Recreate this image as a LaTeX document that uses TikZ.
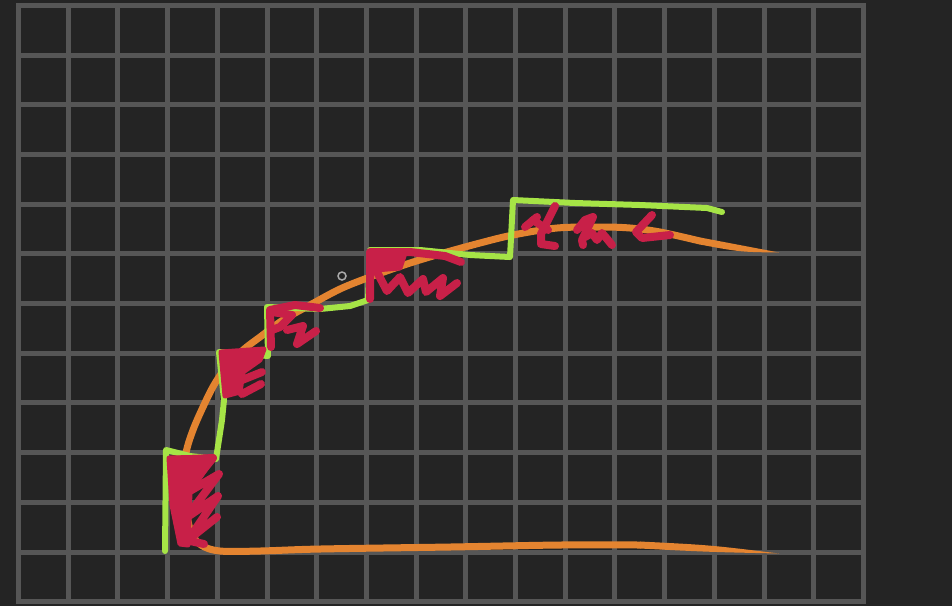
\documentclass[tikz,border=0pt]{standalone}
\usepackage{xcolor}
\usepackage{tikz}
\definecolor{mybg}{RGB}{36,36,36}
\definecolor{mygrid}{RGB}{86,86,86}
\definecolor{myorange}{RGB}{228,132,48}
\definecolor{mylime}{RGB}{166,228,70}
\definecolor{mycrimson}{RGB}{200,32,72}
\definecolor{mycursor}{RGB}{170,170,170}
\tikzset{
  gridline/.style={draw=mygrid, line width=0.1cm, line cap=rect},
  curveline/.style={draw=myorange, line width=0.14cm, line cap=round, line join=round},
  stairline/.style={draw=mylime, line width=0.12cm, line cap=round, line join=round},
  redstroke/.style={draw=mycrimson, line width=0.16cm, line cap=round, line join=round},
  redpatch/.style={fill=mycrimson, draw=mycrimson, line width=0.1cm, line join=round}
}

\begin{document}
\begin{tikzpicture}[x=0.02cm, y=-0.02cm]
  \useasboundingbox (0,0) rectangle (952,606);
  \fill[mybg] (0,0) rectangle (952,606);

  % grid
  \foreach \i in {0,...,17}
    \draw[gridline] ({18.5+49.7*\i},5.3) -- ({18.5+49.7*\i},601.7);
  \foreach \j in {0,...,12}
    \draw[gridline] (18.5,{5.3+49.7*\j}) -- (863.4,{5.3+49.7*\j});

  % curve
  \draw[curveline] plot[smooth, tension=0.55] coordinates {
    (700,241) (660,232) (630,228) (600,227) (557,228) (513,235)
    (480,243) (440,254) (407,264) (370,277) (340,289) (310,305) (283,320)
    (260,337) (243,350) (227,366) (214,385) (203,407) (193,430) (186,453)
    (184,480) (186,508) (191,532) (201,545) (220,551) (260,551) (320,549)
    (450,547) (560,545) (640,545)};
  \fill[myorange] (700.75,237.6) .. controls (740,245) .. (779,252.5)
    .. controls (740,252) .. (699.25,244.4) -- cycle;
  \fill[myorange] (640,541.5) .. controls (710,545) .. (779,553.5)
    .. controls (710,552) .. (640,548.5) -- cycle;

  % steps
  \draw[stairline] (165,551) -- (166,450) -- (190,456) -- (216,459) -- (222,420)
    -- (224,400) -- (219,352) -- (245,354) -- (268,356) -- (267,307)
    -- (320,309) -- (350,306) -- (368,300) -- (370,250) -- (420,250)
    -- (470,255) -- (510,257) -- (513,200) -- (575,203) -- (640,205)
    -- (707,208) -- (722,212);

  % first strip
  \filldraw[redpatch] (169,458) -- (214,457) -- (190,492) -- (188,545) -- (180,544) -- (172,505) -- cycle;
  \draw[redstroke] (172,460) -- (213,458) -- (183,495) -- (219,474) -- (186,518)
    -- (218,496) -- (188,540) -- (217,517);
  \draw[redstroke] (190,541) -- (204,544);

  % second strip
  \filldraw[redpatch] (221,352) -- (264,349) -- (260,360) -- (243,372) -- (240,392) -- (225,396) -- cycle;
  \draw[redstroke] (232,384) -- (262,372);
  \draw[redstroke] (242,394) -- (261,384);

  % third strip
  \draw[redstroke] (271,347) -- (270,310) -- (295,305) -- (320,308);
  \draw[redstroke] (272,312) -- (292,315) -- (280,327) -- (272,330);
  \draw[redstroke] (287,330) -- (303,326) -- (297,344) -- (316,331);

  % fourth strip
  \filldraw[redpatch] (370,253) -- (405,253) -- (400,268) -- (375,270) -- cycle;
  \draw[redstroke] (370,299) -- (370,252) -- (410,252) -- (445,256) -- (461,262);
  \draw[redstroke] (377,272) -- (387,291) -- (400,277) -- (408,293) -- (423,279)
    -- (426,292) -- (443,278) -- (440,296) -- (457,283);

  % fifth strip
  \draw[redstroke] (525,227) -- (537,217);
  \draw[redstroke] (533,220) -- (548,230);
  \draw[redstroke] (555,206) -- (541,234) -- (541,244) -- (555,246);
  \draw[redstroke] (577,230) -- (585,220) -- (593,217) -- (582,240) -- (583,245);
  \draw[redstroke] (585,237) -- (592,233) -- (597,240) -- (602,233) -- (608,240) -- (612,245);
  \draw[redstroke] (652,215) -- (636,232) -- (642,238) -- (670,235);

  % cursor
  \draw[mycursor, line width=0.03cm] (342,276) circle[radius=0.08cm];
\end{tikzpicture}
\end{document}
